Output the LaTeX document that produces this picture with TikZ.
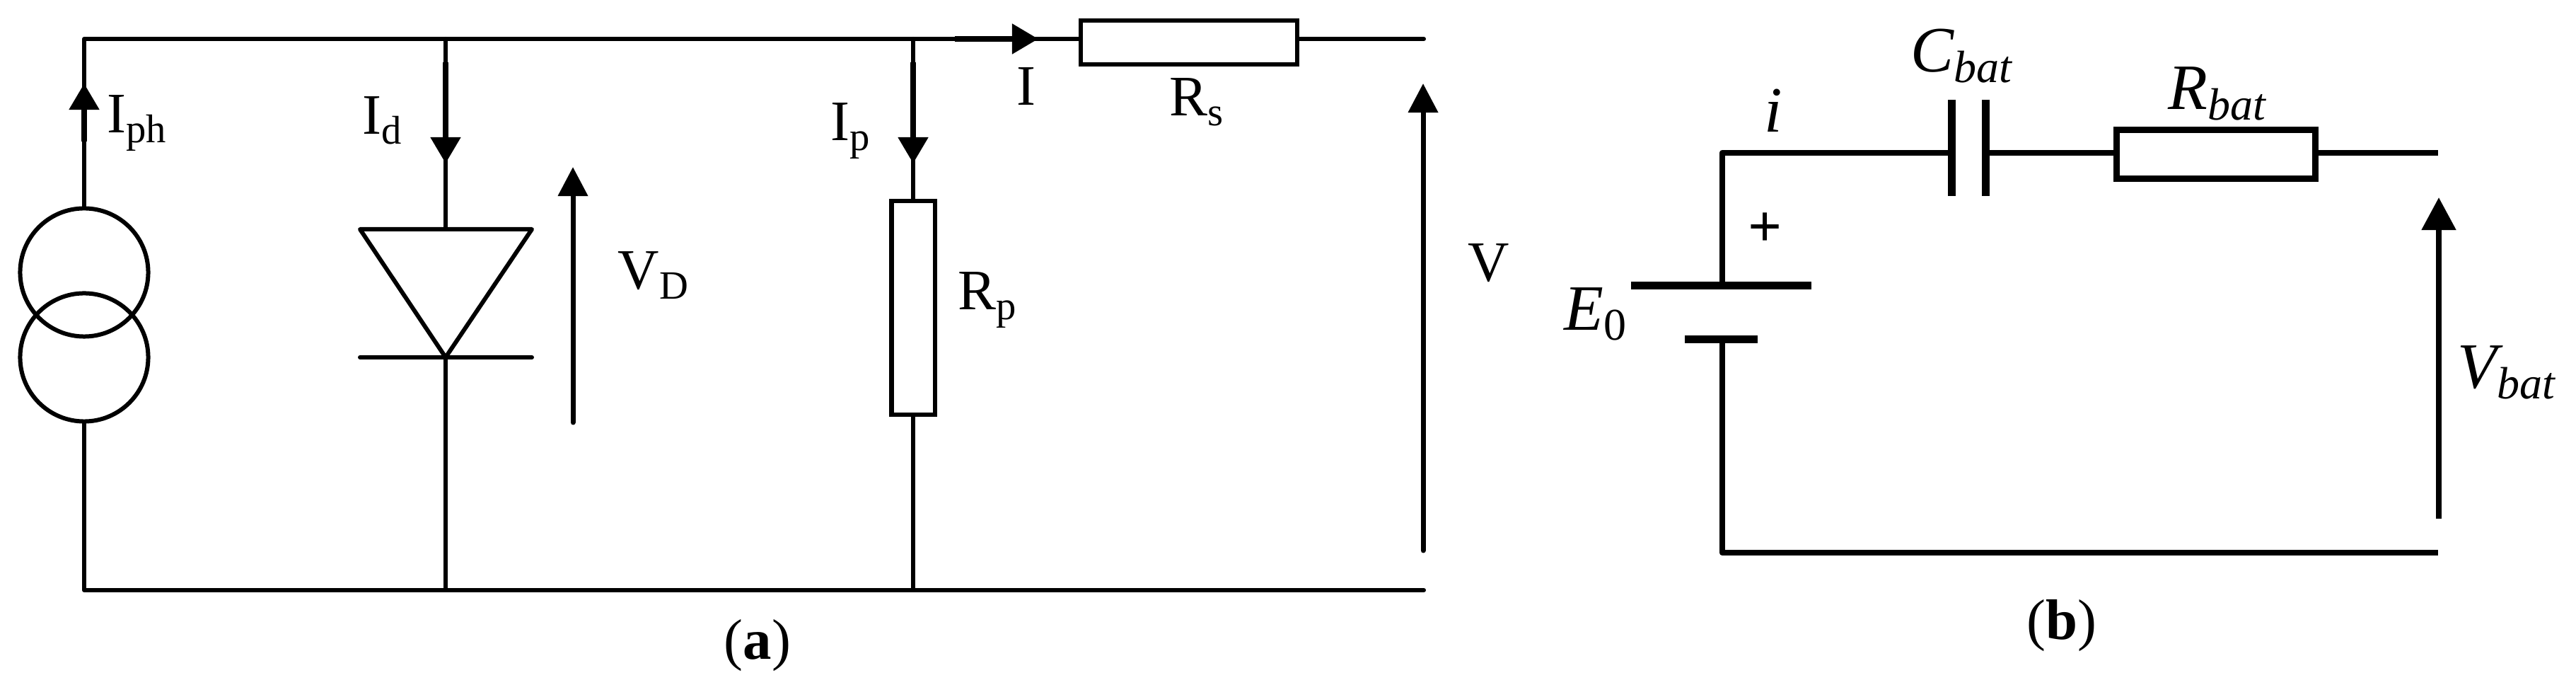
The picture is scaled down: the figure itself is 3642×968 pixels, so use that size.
\documentclass[tikz,border=0pt]{standalone}
\usepackage{fontspec}
\setmainfont{Liberation Serif}
\usetikzlibrary{arrows.meta}

\begin{document}
\begin{tikzpicture}[x=0.01cm,y=-0.01cm]
    \tikzstyle{wire}=[line width=0.06cm,line cap=round,line join=round,black]
    \tikzstyle{wireb}=[line width=0.085cm,line join=round,black]
    \tikzstyle{current}=[line width=0.08cm,-{Triangle[length=0.37cm,width=0.41cm]}]
    \tikzstyle{volt}=[line width=0.07cm,line cap=round,-{Triangle[length=0.41cm,width=0.41cm]}]
    \tikzstyle{source}=[circle,draw,line width=0.06cm,minimum size=1.81cm,inner sep=0pt]
    \tikzstyle{res}=[rectangle,draw,line width=0.06cm,inner sep=0pt,fill=white]
    \tikzstyle{resb}=[rectangle,draw,line width=0.09cm,inner sep=0pt,fill=white]
    \tikzstyle{lab}=[anchor=base west,inner sep=0pt,font=\fontsize{23}{27}\selectfont]
    \tikzstyle{labb}=[anchor=base west,inner sep=0pt,font=\fontsize{26}{30}\selectfont\itshape]
    \tikzstyle{caption}=[anchor=base,inner sep=0pt,font=\fontsize{23}{27}\selectfont]

\useasboundingbox (0,0) rectangle (3642,968);

% left circuit
\coordinate (tl) at (119,55);
\coordinate (bl) at (119,834);
\coordinate (td) at (630,55);
\coordinate (bd) at (630,834);
\coordinate (tp) at (1291,55);
\coordinate (bp) at (1291,834);
\coordinate (tr) at (2013,55);
\coordinate (br) at (2013,834);
\node[source] (s1) at (119,385) {};
\node[source] (s2) at (119,505) {};
\node[res,minimum width=3.05cm,minimum height=0.62cm] (rs) at (1681,60) {};
\node[res,minimum width=0.61cm,minimum height=3.02cm] (rp) at (1291,435) {};

\draw[wire] (s1.north) -- (tl) -- (rs.west |- tl);
\draw[wire] (rs.east |- tr) -- (tr);
\draw[wire] (s2.south) -- (bl) -- (br);
\draw[wire] (tp) -- (rp.north);
\draw[wire] (rp.south) -- (bp);

% diode
\coordinate (dl) at (509,324);
\coordinate (dr) at (752,324);
\coordinate (da) at (630,505);
\coordinate (bl2) at (509,505);
\coordinate (br2) at (752,505);
\draw[wire] (td) -- (630,324);
\draw[wire] (dl) -- (dr) -- (da) -- cycle;
\draw[wire] (bl2) -- (br2);
\draw[wire] (da) -- (bd);

% currents and voltages
\draw[current] (119,200) -- (119,118);
\draw[current] (630,88) -- (630,231);
\draw[current] (1291,88) -- (1291,231);
\draw[current] (1350,55) -- (1468,55);
\draw[volt] (810,597) -- (810,236);
\draw[volt] (2012,778) -- (2012,118);

\node[lab] (iph) at (151,188) {I\textsubscript{ph}};
\node[lab] (id) at (512,190) {I\textsubscript{d}};
\node[lab] (vd) at (873,409) {V\textsubscript{D}};
\node[lab] (ip) at (1174,199) {I\textsubscript{p}};
\node[lab] (i) at (1437,149) {I};
\node[lab] (rsl) at (1653,164) {R\textsubscript{s}};
\node[lab] (rpl) at (1354,438) {R\textsubscript{p}};
\node[lab] (v) at (2075,398) {V};
\node[caption] (capa) at (1071,932) {(\textbf{a})};

% right circuit
\coordinate (cor) at (2435,216);
\coordinate (corb) at (2435,781);
\coordinate (bt) at (2435,404);
\coordinate (bb) at (2435,480);
\coordinate (rt) at (3447,216);
\coordinate (rb) at (3447,781);
\coordinate (c1) at (2759,216);
\coordinate (c2) at (2807,216);
\node[resb,minimum width=2.81cm,minimum height=0.69cm] (rbat) at (3133,218) {};

\draw[wireb] (bt) -- (cor) -- (c1);
\draw[wireb] (c2) -- (rbat.west |- c2);
\draw[wireb] (rbat.east |- rt) -- (rt);
\draw[wireb] (bb) -- (corb) -- (rb);
\draw[line width=0.11cm] (2759,141) -- (2759,277);
\draw[line width=0.11cm] (2807,141) -- (2807,277);
\draw[line width=0.11cm] (2306,404) -- (2561,404);
\draw[line width=0.11cm] (2382,480) -- (2485,480);
\draw[line width=0.08cm,-{Triangle[length=0.46cm,width=0.47cm]}] (3448,733) -- (3448,279);

\node[labb] (e0) at (2211,467) {E\textsubscript{\upshape 0}};
\node[labb] (il) at (2494,187) {i};
\node[labb] (cb) at (2701,102) {C\textsubscript{bat}};
\node[labb] (rl) at (3065,155) {R\textsubscript{bat}};
\node[labb] (vb) at (3474,549) {V\textsubscript{bat}};
\node[inner sep=0pt,font=\fontsize{24}{28}\selectfont\bfseries] (plus) at (2496,325) {+};
\node[caption] (capb) at (2915,904) {(\textbf{b})};
\end{tikzpicture}
\end{document}
